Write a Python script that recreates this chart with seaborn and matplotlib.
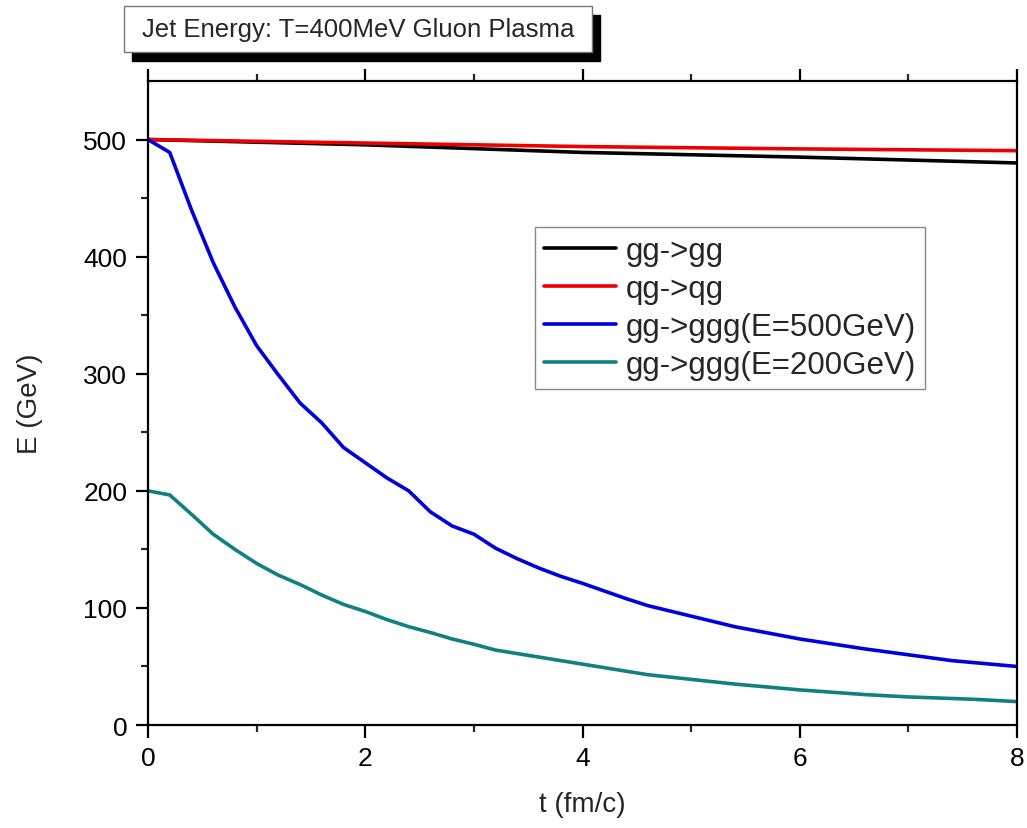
import numpy as np
import pandas as pd
import matplotlib
matplotlib.use('Agg')
import matplotlib.pyplot as plt
import matplotlib.patches as patches
import seaborn as sns

# values
t_gg = [0, 2, 4, 6, 8]
e_gg = [500, 495.5, 489, 485, 480]

t_qg = [0, 2, 4, 6, 8]
e_qg = [500, 497, 494, 492, 490.5]

t_500 = [0, 0.2, 0.4, 0.6, 0.8, 1.0, 1.2, 1.4, 1.6, 1.8, 2.0, 2.2, 2.4, 2.6, 2.8,
         3.0, 3.2, 3.4, 3.6, 3.8, 4.0, 4.4, 4.6, 5.0, 5.4, 6.0, 6.6, 7.0, 7.4, 8.0]
e_500 = [500, 489, 440, 395, 357, 324, 299, 275, 258, 237, 224, 211, 200, 182, 170,
         163, 151, 142, 134, 127, 121, 108, 102, 93, 84, 73.5, 65, 60, 55, 50]

t_200 = [0, 0.2, 0.4, 0.6, 0.8, 1.0, 1.2, 1.4, 1.6, 1.8, 2.0, 2.2, 2.4, 2.6, 2.8,
         3.0, 3.2, 3.6, 4.0, 4.6, 5.0, 5.4, 6.0, 6.6, 7.0, 7.6, 8.0]
e_200 = [200, 196.5, 180, 163, 150, 138, 128, 120, 111, 103, 97, 90, 84, 79, 73.5,
         69, 64, 58, 52, 43, 39, 35, 30, 26, 24, 22, 20]

labels = ['gg->gg', 'qg->qg', 'gg->ggg(E=500GeV)', 'gg->ggg(E=200GeV)']
colors = ['#000000', '#ee0000', '#0000dd', '#118080']

sns.set_style('ticks')
plt.rcParams['font.family'] = ['Liberation Sans', 'DejaVu Sans']

fig = plt.figure(figsize=(10.27, 8.29), dpi=100)
ax = fig.add_axes([0.1441, 0.1242, 0.8462, 0.7769])

series = [(t_gg, e_gg), (t_qg, e_qg), (t_500, e_500), (t_200, e_200)]
for (t, e), lab, c in zip(series, labels, colors):
    sns.lineplot(x=t, y=e, ax=ax, color=c, linewidth=2.6, label=lab)

ax.set_xlim(0, 8)
ax.set_ylim(0, 550)
ax.set_xticks([0, 2, 4, 6, 8])
ax.set_xticks([1, 3, 5, 7], minor=True)
ax.set_yticks([0, 100, 200, 300, 400, 500])
ax.set_yticks([50, 150, 250, 350, 450], minor=True)

ax.tick_params(axis='both', which='major', direction='out', length=9, width=1.6,
               labelsize=19, colors='black')
ax.tick_params(axis='both', which='minor', direction='out', length=5, width=1.6)
ax.tick_params(axis='x', which='both', top=True, labeltop=False, pad=6)
ax.tick_params(axis='y', which='both', right=False, pad=6)
for s in ax.spines.values():
    s.set_linewidth(1.6)
    s.set_color('black')

ax.set_xlabel('t (fm/c)', fontsize=20, labelpad=15)
ax.set_ylabel('E (GeV)', fontsize=20, labelpad=29)

leg = ax.legend(loc='upper left', bbox_to_anchor=(0.4453, 0.7733), borderaxespad=0,
                fontsize=22.5, handlelength=2.3, handletextpad=0.3, labelspacing=0.25,
                borderpad=0.3, fancybox=False, framealpha=1, edgecolor='#888888')
leg.get_frame().set_linewidth(1.0)

# title box with drop shadow
fig.patches.append(patches.Rectangle((0.1207 + 0.0078, 0.9361 - 0.0109), 0.4557, 0.0555,
                                     transform=fig.transFigure, facecolor='black',
                                     edgecolor='black', zorder=1))
fig.patches.append(patches.Rectangle((0.1207, 0.9361), 0.4557, 0.0555,
                                     transform=fig.transFigure, facecolor='white',
                                     edgecolor='#777777', linewidth=1.0, zorder=2))
fig.text(0.3486, 0.9638, 'Jet Energy: T=400MeV Gluon Plasma', fontsize=18.5,
         ha='center', va='center', zorder=3)

fig.savefig('out.png', dpi=100)
